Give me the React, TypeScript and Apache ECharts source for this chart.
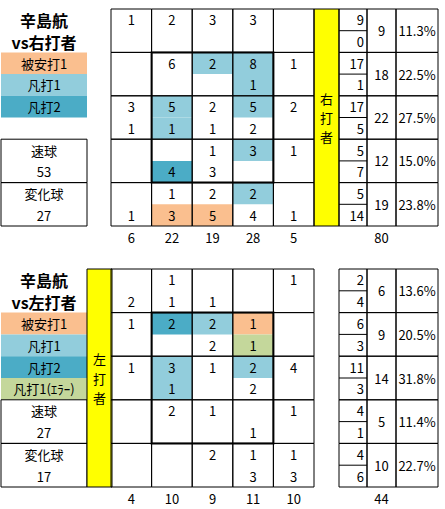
import * as echarts from "echarts";
import { useEffect, useRef } from "react";

const FONT = '"Noto Sans CJK JP", "Noto Sans", sans-serif';

const pitcher = "辛島航";
const pitchNames = ["速球", "変化球"];

// 打撃結果の色
const resultColors: Record<string, string> = {
  H: "#FABF8F", // 被安打
  O1: "#92CDDC", // 凡打1
  O2: "#4BACC6", // 凡打2
  E: "#C4D79B", // 凡打1(エラー)
};

// ---- 右打者 ----
const rhbFast = [
  [1, 2, 3, 3, null],
  [null, 6, 2, 8, 1],
  [3, 5, 2, 5, 2],
  [null, null, 1, 3, 1],
  [null, 1, 2, 2, null],
];
const rhbBreaking = [
  [null, null, null, null, null],
  [null, null, null, 1, null],
  [1, 1, 1, 2, null],
  [null, 4, 3, null, null],
  [1, 3, 5, 4, 1],
];
const rhbFastResult = [
  ["", "", "", "", ""],
  ["", "", "O1", "O1", ""],
  ["", "O1", "", "O1", ""],
  ["", "", "", "O1", ""],
  ["", "", "", "O1", ""],
];
const rhbBreakingResult = [
  ["", "", "", "", ""],
  ["", "", "", "O1", ""],
  ["", "O1", "", "", ""],
  ["", "O2", "", "", ""],
  ["", "H", "H", "", ""],
];
const rhbRowFast = [9, 17, 17, 5, 5];
const rhbRowBreaking = [0, 1, 5, 7, 14];
const rhbRowTotal = [9, 18, 22, 12, 19];
const rhbRowPct = ["11.3%", "22.5%", "27.5%", "15.0%", "23.8%"];
const rhbColTotal = [6, 22, 19, 28, 5];
const rhbTotal = 80;
const rhbPitches = [53, 27];
const rhbLegend = [
  ["被安打1", "H"],
  ["凡打1", "O1"],
  ["凡打2", "O2"],
];

// ---- 左打者 ----
const lhbFast = [
  [null, 1, null, null, 1],
  [1, 2, 2, 1, null],
  [1, 3, 1, 2, 4],
  [null, 2, 1, null, 1],
  [null, null, 2, 1, 1],
];
const lhbBreaking = [
  [2, 1, 1, null, null],
  [null, null, 2, 1, null],
  [null, 1, null, 2, null],
  [null, null, null, 1, null],
  [null, null, null, 3, 3],
];
const lhbFastResult = [
  ["", "", "", "", ""],
  ["", "O2", "O1", "H", ""],
  ["", "O1", "", "O1", ""],
  ["", "", "", "", ""],
  ["", "", "", "", ""],
];
const lhbBreakingResult = [
  ["", "", "", "", ""],
  ["", "", "", "E", ""],
  ["", "O1", "", "", ""],
  ["", "", "", "", ""],
  ["", "", "", "", ""],
];
const lhbRowFast = [2, 6, 11, 4, 4];
const lhbRowBreaking = [4, 3, 3, 1, 6];
const lhbRowTotal = [6, 9, 14, 5, 10];
const lhbRowPct = ["13.6%", "20.5%", "31.8%", "11.4%", "22.7%"];
const lhbColTotal = [4, 10, 9, 11, 10];
const lhbTotal = 44;
const lhbPitches = [27, 17];
const lhbLegend = [
  ["被安打1", "H"],
  ["凡打1", "O1"],
  ["凡打2", "O2"],
  ["凡打1(ｴﾗｰ)", "E"],
];

type Cell = {
  x0: number;
  x1: number;
  y0: number;
  y1: number;
  fill?: string;
  stroke?: string;
  lw?: number;
  line?: boolean;
  text?: string;
  align?: "left" | "center" | "right";
  font?: string;
};

const font13 = `13px ${FONT}`;
const tableCols = [0, 28, 57, 99]; // 内訳 / 計 / %

const renderCells = (cells: Cell[]) => (params: any, api: any) => {
  const c = cells[params.dataIndex];
  const p0 = api.coord([c.x0, c.y0]);
  const p1 = api.coord([c.x1, c.y1]);
  const x = Math.min(p0[0], p1[0]);
  const y = Math.min(p0[1], p1[1]);
  const w = Math.abs(p1[0] - p0[0]);
  const h = Math.abs(p1[1] - p0[1]);
  const children: any[] = [];
  if (c.line) {
    children.push({
      type: "line",
      shape: { x1: x, y1: y, x2: x + w, y2: y },
      style: { stroke: "#000", lineWidth: 1 },
    });
  } else if (c.fill || c.stroke) {
    children.push({
      type: "rect",
      shape: { x, y, width: w, height: h },
      style: { fill: c.fill ?? "none", stroke: c.stroke ?? "none", lineWidth: c.lw ?? 1 },
    });
  }
  if (c.text != null && c.text !== "") {
    const tx = c.align === "right" ? x + w - 3 : c.align === "left" ? x + 3 : x + w / 2;
    children.push({
      type: "text",
      style: {
        text: c.text,
        x: tx,
        y: y + h / 2,
        align: c.align ?? "center",
        verticalAlign: "middle",
        font: c.font ?? font13,
        fill: "#000",
      },
    });
  }
  return { type: "group", children };
};

const str = (v: number | null) => (v == null ? "" : String(v));

interface Section {
  side: string;
  top: number;
  height: number;
  fast: (number | null)[][];
  breaking: (number | null)[][];
  fastResult: string[][];
  breakingResult: string[][];
  rowFast: number[];
  rowBreaking: number[];
  rowTotal: number[];
  rowPct: string[];
  colTotal: number[];
  total: number;
  pitches: number[];
  legend: string[][];
  yellowLeft: number;
}

const buildSection = (s: Section, gi: number) => {
  // 凡例
  const legend: Cell[] = [
    { x0: 0, x1: 1, y0: 0, y1: 1, text: pitcher, font: `bold 16px ${FONT}` },
    { x0: 0, x1: 1, y0: 1, y1: 2, text: `vs${s.side}打者`, font: `bold 16px ${FONT}` },
  ];
  s.legend.forEach(([name, key], i) => {
    legend.push({ x0: 0, x1: 1, y0: 2 + i, y1: 3 + i, fill: resultColors[key], text: name });
  });
  pitchNames.forEach((name, i) => {
    legend.push({ x0: 0, x1: 1, y0: 6 + i * 2, y1: 8 + i * 2, stroke: "#000" });
    legend.push({ x0: 0, x1: 1, y0: 6 + i * 2, y1: 7 + i * 2, text: name });
    legend.push({ x0: 0, x1: 1, y0: 7 + i * 2, y1: 8 + i * 2, text: String(s.pitches[i]) });
  });

  // 打者側の帯 (縦書き)
  const yellow: Cell[] = [{ x0: 0, x1: 1, y0: 0, y1: 10, fill: "#FFFF00", stroke: "#000" }];
  [s.side, "打", "者"].forEach((ch, i) => {
    const cy = 5 + (i - 1) * 0.88;
    yellow.push({ x0: 0, x1: 1, y0: cy - 0.3, y1: cy + 0.3, text: ch, font: `13px ${FONT}` });
  });

  // コース別
  const fills: Cell[] = [];
  const borders: Cell[] = [];
  const texts: Cell[] = [];
  for (let r = 0; r < 5; r++) {
    for (let c = 0; c < 5; c++) {
      const fr = s.fastResult[r][c];
      const br = s.breakingResult[r][c];
      if (fr) fills.push({ x0: c, x1: c + 1, y0: 2 * r, y1: 2 * r + 1, fill: resultColors[fr] });
      if (br) fills.push({ x0: c, x1: c + 1, y0: 2 * r + 1, y1: 2 * r + 2, fill: resultColors[br] });
      borders.push({ x0: c, x1: c + 1, y0: 2 * r, y1: 2 * r + 2, stroke: "#000" });
      texts.push({ x0: c, x1: c + 1, y0: 2 * r, y1: 2 * r + 1, text: str(s.fast[r][c]) });
      texts.push({ x0: c, x1: c + 1, y0: 2 * r + 1, y1: 2 * r + 2, text: str(s.breaking[r][c]) });
    }
  }
  s.colTotal.forEach((v, c) => {
    texts.push({ x0: c, x1: c + 1, y0: 10.1, y1: 11.0, text: String(v) });
  });
  const zoneBox: Cell = { x0: 1, x1: 4, y0: 2, y1: 8, stroke: "#000", lw: 2 };
  const zone = [...fills, ...borders, zoneBox, ...texts];

  // 高さ別集計
  const table: Cell[] = [];
  const [a, b, cc, d] = tableCols;
  for (let r = 0; r < 5; r++) {
    table.push({ x0: a, x1: b, y0: 2 * r, y1: 2 * r + 2, stroke: "#000" });
    table.push({ x0: a, x1: b, y0: 2 * r + 1, y1: 2 * r + 1, line: true });
    table.push({ x0: a, x1: b, y0: 2 * r, y1: 2 * r + 1, text: String(s.rowFast[r]), align: "right" });
    table.push({ x0: a, x1: b, y0: 2 * r + 1, y1: 2 * r + 2, text: String(s.rowBreaking[r]), align: "right" });
    table.push({ x0: b, x1: cc, y0: 2 * r, y1: 2 * r + 2, stroke: "#000", text: String(s.rowTotal[r]) });
    table.push({ x0: cc, x1: d, y0: 2 * r, y1: 2 * r + 2, stroke: "#000", text: s.rowPct[r] });
  }
  table.push({ x0: b, x1: cc, y0: 10.1, y1: 11.0, text: String(s.total) });

  const parts: { left: number; width: number; max: number; cells: Cell[] }[] = [
    { left: 1, width: 86, max: 1, cells: legend },
    { left: s.yellowLeft, width: 25, max: 1, cells: yellow },
    { left: 111, width: 203, max: 5, cells: zone },
    { left: 339, width: 99, max: d, cells: table },
  ];

  const grid: any[] = [];
  const xAxis: any[] = [];
  const yAxis: any[] = [];
  const series: any[] = [];
  parts.forEach((p, i) => {
    const idx = gi + i;
    grid.push({ left: p.left, top: s.top, width: p.width, height: s.height });
    xAxis.push({ type: "value", gridIndex: idx, min: 0, max: p.max, show: false });
    yAxis.push({ type: "value", gridIndex: idx, min: 0, max: 10, inverse: true, show: false });
    series.push({
      type: "custom",
      xAxisIndex: idx,
      yAxisIndex: idx,
      silent: true,
      clip: false,
      renderItem: renderCells(p.cells),
      data: p.cells.map((c) => [(c.x0 + c.x1) / 2, (c.y0 + c.y1) / 2]),
    });
  });
  return { grid, xAxis, yAxis, series };
};

const sections: Section[] = [
  {
    side: "右",
    top: 9,
    height: 217,
    fast: rhbFast,
    breaking: rhbBreaking,
    fastResult: rhbFastResult,
    breakingResult: rhbBreakingResult,
    rowFast: rhbRowFast,
    rowBreaking: rhbRowBreaking,
    rowTotal: rhbRowTotal,
    rowPct: rhbRowPct,
    colTotal: rhbColTotal,
    total: rhbTotal,
    pitches: rhbPitches,
    legend: rhbLegend,
    yellowLeft: 314,
  },
  {
    side: "左",
    top: 269,
    height: 218,
    fast: lhbFast,
    breaking: lhbBreaking,
    fastResult: lhbFastResult,
    breakingResult: lhbBreakingResult,
    rowFast: lhbRowFast,
    rowBreaking: lhbRowBreaking,
    rowTotal: lhbRowTotal,
    rowPct: lhbRowPct,
    colTotal: lhbColTotal,
    total: lhbTotal,
    pitches: lhbPitches,
    legend: lhbLegend,
    yellowLeft: 87,
  },
];

const App = () => {
  const chartRef = useRef<HTMLDivElement>(null);

  useEffect(() => {
    if (!chartRef.current) return;
    document.body.style.margin = "0";

    const chart = echarts.init(chartRef.current, undefined, { renderer: "svg" });

    const top = buildSection(sections[0], 0);
    const bottom = buildSection(sections[1], 4);

    const option: echarts.EChartsOption = {
      animation: false,
      backgroundColor: "#fff",
      grid: [...top.grid, ...bottom.grid],
      xAxis: [...top.xAxis, ...bottom.xAxis],
      yAxis: [...top.yAxis, ...bottom.yAxis],
      series: [...top.series, ...bottom.series],
    };

    chart.setOption(option);

    return () => {
      chart.dispose();
    };
  }, []);

  return <div ref={chartRef} style={{ width: "445px", height: "509px" }} />;
};

export default App;
